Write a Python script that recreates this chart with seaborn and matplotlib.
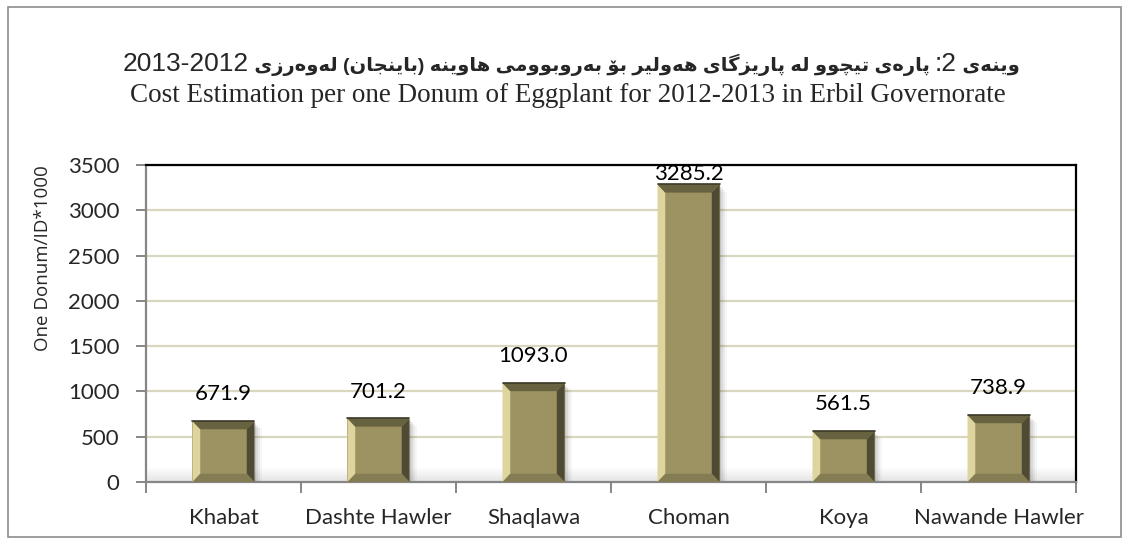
import re
import numpy as np
import pandas as pd
import seaborn as sns
import matplotlib
matplotlib.use('Agg')
import matplotlib.pyplot as plt
from matplotlib.patches import Polygon, Rectangle

# =============================================================================
# Data
# =============================================================================
districts = ['Khabat', 'Dashte Hawler', 'Shaqlawa', 'Choman', 'Koya', 'Nawande Hawler']
costs = [671.9, 701.2, 1093.0, 3285.2, 561.5, 738.9]
y_ticks = [0, 500, 1000, 1500, 2000, 2500, 3000, 3500]

title_ku = 'وێنەی 2: پارەی تێچوو لە پارێزگای هەولێر بۆ بەروبوومی هاوینە (باینجان) لەوەرزی 2012-2013'
title_en = 'Cost Estimation per one Donum of Eggplant for 2012-2013 in Erbil Governorate'
y_label = 'One Donum/ID*1000'

# =============================================================================
# Minimal Arabic-script shaping (matplotlib does no shaping / bidi itself)
# forms: isolated, final, initial, medial
# =============================================================================
DUAL = {
    'ب': ('\uFE8F', '\uFE90', '\uFE91', '\uFE92'),
    'پ': ('\uFB56', '\uFB57', '\uFB58', '\uFB59'),
    'ت': ('\uFE95', '\uFE96', '\uFE97', '\uFE98'),
    'ج': ('\uFE9D', '\uFE9E', '\uFE9F', '\uFEA0'),
    'چ': ('\uFB7A', '\uFB7B', '\uFB7C', '\uFB7D'),
    'گ': ('\uFB92', '\uFB93', '\uFB94', '\uFB95'),
    'ل': ('\uFEDD', '\uFEDE', '\uFEDF', '\uFEE0'),
    'م': ('\uFEE1', '\uFEE2', '\uFEE3', '\uFEE4'),
    'ن': ('\uFEE5', '\uFEE6', '\uFEE7', '\uFEE8'),
    'ه': ('\uFEE9', '\uFEEA', '\uFEEB', '\uFEEC'),
    'ی': ('\uFBFC', '\uFBFD', '\uFBFE', '\uFBFF'),
    'ێ': ('\u06CE', '\uFBFD', '\uFBFE', '\uFBFF'),
}
RIGHT = {
    'ا': ('\uFE8D', '\uFE8E'),
    'ر': ('\uFEAD', '\uFEAE'),
    'ز': ('\uFEAF', '\uFEB0'),
    'و': ('\uFEED', '\uFEEE'),
    'ۆ': ('\uFBD9', '\uFBDA'),
    'ە': ('\u06D5', '\uFEEA'),
}
MIRROR = {'(': ')', ')': '('}


def to_visual(text):
    tokens = []
    i = 0
    while i < len(text):
        ch = text[i]
        if ch.isdigit():
            j = i
            while j < len(text) and text[j].isdigit():
                j += 1
            tokens.append(text[i:j])
            i = j
            continue
        prev = text[i-1] if i > 0 else ''
        nxt = text[i+1] if i+1 < len(text) else ''
        jp = prev in DUAL
        if ch in DUAL:
            jn = nxt in DUAL or nxt in RIGHT
            f = DUAL[ch]
            tokens.append(f[3] if (jp and jn) else f[2] if jn else f[1] if jp else f[0])
        elif ch in RIGHT:
            tokens.append(RIGHT[ch][1] if jp else RIGHT[ch][0])
        else:
            tokens.append(MIRROR.get(ch, ch))
        i += 1
    return ''.join(reversed(tokens))


# =============================================================================
# Plot
# =============================================================================
sns.set_theme(style='white')
plt.rcParams['font.family'] = ['Lato', 'DejaVu Sans']

fig, ax = plt.subplots(figsize=(11.29, 5.44), dpi=100)
fig.subplots_adjust(left=0.1293, right=0.9531, bottom=0.114, top=0.6967)

bar_col = '#9C9262'
sns.barplot(x=districts, y=costs, color=bar_col, width=0.4, saturation=1,
            ax=ax, zorder=3, edgecolor='none')
ax.set_xlim(-0.5, 5.5)
ax.set_ylim(0, 3500)

# floor gradient
grad = np.linspace(0, 1, 50).reshape(-1, 1)
ax.imshow(grad, extent=(-0.5, 5.5, 0, 160), origin='lower', aspect='auto',
          cmap=matplotlib.colors.LinearSegmentedColormap.from_list('fl', ['#E4E4E4', '#FFFFFF']),
          zorder=1)

# bevels + shadows
dx, dy_full = 0.05, 90
for p in list(ax.patches):
    if not isinstance(p, Rectangle) or p.get_height() <= 0:
        continue
    x0, w, h = p.get_x(), p.get_width(), p.get_height()
    x1 = x0 + w
    dy = min(dy_full, h / 3)
    for k, a in enumerate([0.12, 0.09, 0.06, 0.04]):
        off = 0.012 * (k + 1)
        ax.add_patch(Rectangle((x0 + off, 0), w, h - 20 * (k + 1), color='#303030',
                               alpha=a, zorder=2, lw=0))
    ax.add_patch(Polygon([(x0, 0), (x0, h), (x0 + dx, h - dy), (x0 + dx, dy)],
                         closed=True, color='#DDD49E', lw=0, zorder=4))
    ax.add_patch(Polygon([(x1, 0), (x1, h), (x1 - dx, h - dy), (x1 - dx, dy)],
                         closed=True, color='#4E4A33', lw=0, zorder=4))
    ax.add_patch(Polygon([(x0, h), (x1, h), (x1 - dx, h - dy), (x0 + dx, h - dy)],
                         closed=True, color='#67623F', lw=0, zorder=4))
    ax.add_patch(Polygon([(x0, 0), (x1, 0), (x1 - dx, dy), (x0 + dx, dy)],
                         closed=True, color='#847C52', lw=0, zorder=4))
    ax.plot([x0, x1], [h, h], color='#3A3726', lw=1.2, zorder=5)

# value labels
for i, v in enumerate(costs):
    off = 0 if v > 3000 else 12
    ax.annotate(f'{v:.1f}', (i, v), xytext=(0, off), textcoords='offset points',
                ha='center', va='bottom', fontsize=16, color='black', zorder=6)

# grid / spines / ticks
ax.set_yticks(y_ticks)
ax.yaxis.grid(True, color='#D9D7BF', lw=1.6)
ax.set_axisbelow(True)
for s in ['top', 'right']:
    ax.spines[s].set_color('black')
    ax.spines[s].set_linewidth(1.6)
for s in ['left', 'bottom']:
    ax.spines[s].set_color('#868686')
    ax.spines[s].set_linewidth(1.6)
ax.tick_params(axis='y', length=7, width=1.4, color='#868686', pad=12, labelsize=16,
               direction='out', left=True)
ax.set_xticks(range(len(districts)))
ax.set_xticklabels(districts)
ax.tick_params(axis='x', which='major', length=0, pad=19, labelsize=16)
ax.set_xticks(np.arange(-0.5, len(districts), 1), minor=True)
ax.tick_params(axis='x', which='minor', length=8, width=1.4, color='#868686',
               direction='out', bottom=True)
ax.set_xlabel('')
ax.set_ylabel('')

fig.text(0.038, 1 - 258 / 544, y_label, rotation=90, ha='center', va='center',
         fontsize=13.5, family=['Open Sans', 'DejaVu Sans'])

# kurdish title: numbers are regular weight and a bit larger than the arabic-script runs
renderer = fig.canvas.get_renderer()
runs = re.findall(r'[0-9:\-]+|[^0-9:\-]+', to_visual(title_ku))
base_y = 1 - 71 / 544
pieces = []
for r in runs:
    num = r[0] in '0123456789:-'
    t = fig.text(0, base_y, r, ha='left', va='baseline',
                 fontweight='normal' if num else 'bold',
                 fontsize=19 if num else 14, family=['Liberation Sans', 'DejaVu Sans'])
    pieces.append((t, t.get_window_extent(renderer).width))
total = sum(w for _, w in pieces)
x = 1129 * 0.506 - total / 2
for t, w in pieces:
    t.set_x(x / 1129)
    x += w

fig.text(0.503, 1 - 96 / 544, title_en, ha='center', va='center',
         fontsize=19.5, family=['Liberation Serif'])

# outer chart border
fig.patches.append(Rectangle((8 / 1129, 7 / 544), 1113 / 1129, 530 / 544,
                             transform=fig.transFigure, fill=False,
                             edgecolor='#8C8C8C', lw=1.2))

fig.savefig('out.png', dpi=100)
